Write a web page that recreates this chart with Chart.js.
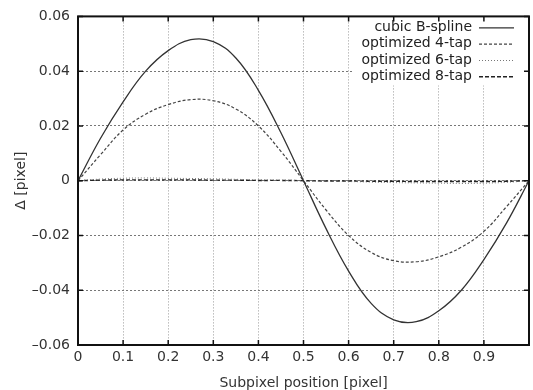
<!DOCTYPE html>
<html>
<head>
<meta charset="utf-8">
<script src="https://cdn.jsdelivr.net/npm/chart.js@4/dist/chart.umd.min.js"></script>
<style>
  html, body { margin: 0; padding: 0; background: #fff; }
  canvas { display: block; }
</style>
</head>
<body>
<canvas id="errChart" width="533" height="390"></canvas>
<script>
// subpixel positions (x) and estimation error per kernel
const xValues = [0, 0.05, 0.1, 0.15, 0.2, 0.25, 0.3, 0.35, 0.4, 0.45, 0.5,
                 0.55, 0.6, 0.65, 0.7, 0.75, 0.8, 0.85, 0.9, 0.95, 1];
const bsplineErr = [0, 0.0155, 0.0288, 0.0400, 0.0475, 0.0515, 0.0508, 0.0448, 0.0330, 0.0175, 0,
                    -0.0175, -0.0330, -0.0448, -0.0508, -0.0515, -0.0475, -0.0400, -0.0288, -0.0155, 0];
const tap4Err = [0, 0.0095, 0.0185, 0.0243, 0.0278, 0.0296, 0.0292, 0.0262, 0.0200, 0.0107, 0,
                 -0.0107, -0.0200, -0.0262, -0.0292, -0.0296, -0.0278, -0.0243, -0.0185, -0.0095, 0];
const tap6Err = [0, 0.0006, 0.0009, 0.001, 0.0009, 0.0008, 0.0007, 0.0005, 0.0003, 0.0002, 0,
                 -0.0002, -0.0003, -0.0005, -0.0007, -0.0008, -0.0009, -0.001, -0.0009, -0.0006, 0];
const tap8Err = [0, 0.0002, 0.0003, 0.0003, 0.0003, 0.0003, 0.0002, 0.0002, 0.0001, 0.0001, 0,
                 -0.0001, -0.0001, -0.0002, -0.0002, -0.0003, -0.0003, -0.0003, -0.0003, -0.0002, 0];
const seriesNames = ['cubic B-spline', 'optimized 4-tap', 'optimized 6-tap', 'optimized 8-tap'];

const xTickValues = [0, 0.1, 0.2, 0.3, 0.4, 0.5, 0.6, 0.7, 0.8, 0.9, 1];
const xTickLabels = ['0', '0.1', '0.2', '0.3', '0.4', '0.5', '0.6', '0.7', '0.8', '0.9', ''];
const yTickValues = [-0.06, -0.04, -0.02, 0, 0.02, 0.04, 0.06];
const yTickLabels = ['\u20130.06', '\u20130.04', '\u20130.02', '0', '0.02', '0.04', '0.06'];

const FONT = 'DejaVu Sans';
const toPoints = ys => xValues.map((x, i) => ({ x: x, y: ys[i] }));

// line styles for each series
const styles = [
  { color: '#333', dash: [], width: 1.3 },
  { color: '#444', dash: [3, 2], width: 1.2 },
  { color: '#777', dash: [1, 2], width: 1 },
  { color: '#222', dash: [4, 2], width: 1.4 },
];
const seriesData = [bsplineErr, tap4Err, tap6Err, tap8Err];

// gnuplot-ish frame: inward ticks, box, legend on white at top right
const framePlugin = {
  id: 'frame',
  afterDraw(chart) {
    const { ctx, chartArea: a, scales } = chart;
    ctx.save();

    // legend
    ctx.fillStyle = '#fff';
    ctx.fillRect(a.right - 175, a.top + 1, 174, 68);
    ctx.font = '14px "' + FONT + '"';
    ctx.textAlign = 'right';
    ctx.textBaseline = 'middle';
    chart.data.datasets.forEach((ds, i) => {
      const yy = a.top + 11 + i * 16.3;
      ctx.fillStyle = '#222';
      ctx.fillText(ds.label, a.right - 57, yy);
      ctx.strokeStyle = ds.borderColor;
      ctx.lineWidth = ds.borderWidth;
      ctx.setLineDash(ds.borderDash);
      ctx.beginPath();
      ctx.moveTo(a.right - 50, yy + 0.5);
      ctx.lineTo(a.right - 15, yy + 0.5);
      ctx.stroke();
    });
    ctx.setLineDash([]);

    // inward tick marks
    ctx.strokeStyle = '#111';
    ctx.lineWidth = 1.5;
    ctx.beginPath();
    scales.x.ticks.forEach(t => {
      const px = scales.x.getPixelForValue(t.value);
      ctx.moveTo(px, a.bottom); ctx.lineTo(px, a.bottom - 5);
      ctx.moveTo(px, a.top); ctx.lineTo(px, a.top + 5);
    });
    scales.y.ticks.forEach(t => {
      const py = scales.y.getPixelForValue(t.value);
      ctx.moveTo(a.left, py); ctx.lineTo(a.left + 5, py);
      ctx.moveTo(a.right, py); ctx.lineTo(a.right - 5, py);
    });
    ctx.stroke();

    // box
    ctx.lineWidth = 2;
    ctx.strokeStyle = '#111';
    ctx.strokeRect(a.left, a.top, a.right - a.left, a.bottom - a.top);
    ctx.restore();
  }
};

new Chart(document.getElementById('errChart'), {
  type: 'line',
  data: {
    datasets: seriesNames.map((name, i) => ({
      label: name,
      data: toPoints(seriesData[i]),
      borderColor: styles[i].color,
      borderDash: styles[i].dash,
      borderWidth: styles[i].width,
      pointRadius: 0,
      fill: false,
      tension: 0.4,
    })),
  },
  options: {
    responsive: false,
    animation: false,
    layout: { padding: { top: 14, right: 1, bottom: 0, left: 0 } },
    plugins: {
      legend: { display: false },
      tooltip: { enabled: false },
    },
    scales: {
      x: {
        type: 'linear',
        min: 0,
        max: 1,
        afterBuildTicks: scale => { scale.ticks = xTickValues.map(v => ({ value: v })); },
        afterFit: scale => { scale.height = 45; },
        ticks: {
          autoSkip: false,
          maxRotation: 0,
          padding: 4,
          color: '#333',
          font: { family: FONT, size: 14 },
          callback: (v, i) => xTickLabels[i],
        },
        grid: { color: '#999', lineWidth: 1, drawTicks: false },
        border: { display: false, dash: [1, 2] },
        title: {
          display: true,
          text: 'Subpixel position [pixel]',
          color: '#333',
          font: { family: FONT, size: 14, lineHeight: 1 },
          padding: { top: 0, bottom: 0 },
        },
      },
      y: {
        min: -0.06,
        max: 0.06,
        afterBuildTicks: scale => { scale.ticks = yTickValues.map(v => ({ value: v })); },
        afterFit: scale => { scale.width = 78; },
        ticks: {
          autoSkip: false,
          padding: 8,
          color: '#333',
          font: { family: FONT, size: 14 },
          callback: (v, i) => yTickLabels[i],
        },
        grid: { color: '#777', lineWidth: 1, drawTicks: false },
        border: { display: false, dash: [2, 2] },
        title: {
          display: true,
          text: 'Δ [pixel]',
          color: '#333',
          font: { family: FONT, size: 14, lineHeight: 1 },
          padding: { top: 14, bottom: 0 },
        },
      },
    },
  },
  plugins: [framePlugin],
});
</script>
</body>
</html>
